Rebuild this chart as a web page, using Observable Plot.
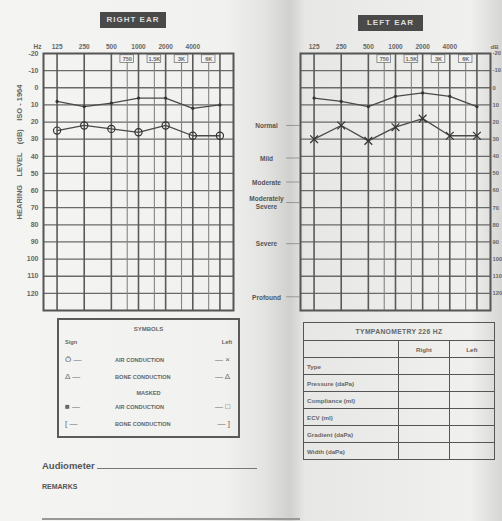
<!DOCTYPE html>
<html><head><meta charset="utf-8">
<script src="https://cdn.jsdelivr.net/npm/d3@7"></script>
<script src="https://cdn.jsdelivr.net/npm/@observablehq/plot@0.6"></script>
<style>
body{margin:0;background:#eee;}
#page{position:relative;width:502px;height:521px;overflow:hidden;
 background:linear-gradient(to right,#f4f4f2 0px,#f1f1ef 225px,#e3e3e1 265px,#d0d0ce 290px,#e7e7e5 305px,#f0f0ee 470px,#d6d6d4 502px);
 font-family:"Liberation Sans",Arial,sans-serif;color:#555;}
.abs{position:absolute;}
.earTitle{position:absolute;background:#4a4a4a;color:#ddd;font-weight:bold;font-size:8px;letter-spacing:1px;text-align:center;line-height:16px;height:16px;}
#legend{left:57px;top:318px;width:179px;height:116px;border:2px solid #5a5a5a;font-size:5.6px;font-weight:bold;color:#666;}
#legend div{position:absolute;white-space:nowrap;}
#tymp{left:303px;top:322px;border-collapse:collapse;width:192px;font-size:6.2px;font-weight:bold;color:#666;}
#tymp td{border:1.5px solid #555;height:16px;padding:0 3px;white-space:nowrap;}
svg{position:absolute;top:0;overflow:visible;}
</style></head>
<body><div id="page"></div>
<script>
// ---------- data ----------
const freqs = [125, 250, 500, 1000, 2000, 4000, 8000];
const freqLabels = ["125", "250", "500", "1000", "2000", "4000"];
const midFreqs = [750, 1500, 3000, 6000];
const midLabels = ["750", "1.5K", "3K", "6K"];
const gridFreqs = [125, 250, 500, 750, 1000, 1500, 2000, 3000, 4000, 6000, 8000];
const dbTicks = [-20, -10, 0, 10, 20, 30, 40, 50, 60, 70, 80, 90, 100, 110, 120];
const dbLines = [-10, 0, 10, 20, 30, 40, 50, 60, 70, 80, 90, 100, 110, 120];
const rightAir = [8, 11, 9, 6, 6, 12, 10];
const rightBone = [25, 22, 24, 26, 22, 28, 28];
const leftAir = [6, 8, 11, 5, 3, 5, 11];
const leftBone = [30, 22, 31, 23, 18, 28, 28];
const sevLabels = ["Normal", "Mild", "Moderate", "Moderately\nSevere", "Severe", "Profound"];
const sevDb = [22, 41, 55, 67, 91, 122];
const legendRows = [
  ["Ō —", "AIR CONDUCTION", "— ×"],
  ["Δ —", "BONE CONDUCTION", "— Δ"],
  ["■ —", "AIR CONDUCTION", "— □"],
  ["[ —", "BONE CONDUCTION", "— ]"]
];
const tympRows = ["Type", "Pressure (daPa)", "Compliance (ml)", "ECV (ml)", "Gradient (daPa)", "Width (daPa)"];

// ---------- helpers ----------
const page = document.getElementById("page");
const xDomain = [125 / Math.SQRT2, 8000 * Math.SQRT2];
const font = "'Liberation Sans', Arial, sans-serif";

function ear({air, bone, left, width, marginLeft, marginRight, axis, boneSymbol, extra}) {
  const airData = freqs.map((f, i) => ({f, db: air[i]}));
  const boneData = freqs.map((f, i) => ({f, db: bone[i]}));
  const midData = midFreqs.map((f, i) => ({f, t: midLabels[i]}));
  const topData = freqLabels.map((t, i) => ({f: freqs[i], t}));
  const p = Plot.plot({
    width, height: 330, marginLeft, marginRight, marginTop: 53, marginBottom: 20,
    style: {background: "transparent", fontFamily: font, fontSize: "7px", fontWeight: "bold", color: "#555", overflow: "visible"},
    x: {type: "log", domain: xDomain, axis: null},
    y: {domain: [-20, 130], reverse: true, axis: null},
    marks: [
      Plot.ruleY(dbLines, {stroke: "#6a6a6a", strokeWidth: 1.3}),
      Plot.ruleX(gridFreqs, {stroke: d => freqs.includes(d) ? "#5a5a5a" : "#858585", strokeWidth: d => freqs.includes(d) ? 1.6 : 1.1}),
      Plot.rect(midData, {x1: d => d.f / 1.19, x2: d => d.f * 1.19, y1: -19, y2: -14.5, fill: "#f2f2f2", stroke: "#777", strokeWidth: 0.8}),
      Plot.text(midData, {x: "f", y: -16.7, text: "t", fontSize: 5.5, fill: "#666"}),
      Plot.frame({stroke: "#555", strokeWidth: 2}),
      axis,
      Plot.text(topData, {x: "f", frameAnchor: "top", dy: -9, text: "t", fill: "#666", fontSize: 6.5}),
      Plot.line(airData, {x: "f", y: "db", stroke: "#4a4a4a", strokeWidth: 1.3}),
      Plot.dot(airData, {x: "f", y: "db", r: 1.6, fill: "#333"}),
      Plot.line(boneData, {x: "f", y: "db", stroke: "#4a4a4a", strokeWidth: 1.3}),
      Plot.dot(boneData, {x: "f", y: "db", r: 3.6, symbol: boneSymbol, stroke: "#333", strokeWidth: 1.2, fill: "none"}),
      ...extra
    ]
  });
  p.style.left = left + "px";
  page.appendChild(p);
}

// Right ear
ear({air: rightAir, bone: rightBone, left: 0, width: 250, marginLeft: 43, marginRight: 17, boneSymbol: "circle",
  axis: Plot.axisY({anchor: "left", ticks: dbTicks, tickSize: 0, tickPadding: 5, label: null, tickFormat: d => String(d), fill: "#666"}),
  extra: [
    Plot.text(["Hz"], {frameAnchor: "top-left", dx: -10, dy: -9, text: d => d, fill: "#666", fontSize: 6.5}),
    Plot.text(["HEARING    LEVEL    (dB)    ISO - 1964"], {frameAnchor: "left", textAnchor: "middle", dx: -24, dy: -30, rotate: -90, text: d => d, fontSize: 7.5, fill: "#666"})
  ]});

// Left ear (with severity scale in the gutter)
const sevData = sevLabels.map((t, i) => ({t, db: sevDb[i]}));
ear({air: leftAir, bone: leftBone, left: 235, width: 267, marginLeft: 65, marginRight: 12, boneSymbol: "times",
  axis: Plot.axisY({anchor: "right", ticks: dbTicks, tickSize: 0, tickPadding: 2, label: null, tickFormat: d => String(d), fill: "#666", fontSize: 5.8}),
  extra: [
    Plot.text(sevData, {y: "db", text: "t", frameAnchor: "left", dx: -34, textAnchor: "middle", fontSize: 6.5, fill: "#555", lineHeight: 1.3}),
    Plot.ruleY(sevData, {y: "db", x1: 62, x2: xDomain[0], stroke: "#888", strokeWidth: 0.8, clip: false}),
    Plot.text(["dB"], {frameAnchor: "top-right", dx: 8, dy: -9, text: d => d, fill: "#666", fontSize: 6})
  ]});

// Ear titles
function title(txt, l, t, w) {
  const d = document.createElement("div");
  d.className = "earTitle"; d.textContent = txt;
  d.style.left = l + "px"; d.style.top = t + "px"; d.style.width = w + "px";
  page.appendChild(d);
}
title("RIGHT EAR", 100, 12, 66);
title("LEFT EAR", 358, 15, 65);

// Legend box
const lg = document.createElement("div");
lg.id = "legend"; lg.className = "abs";
let html = `<div style="left:0;width:179px;text-align:center;top:6px;font-size:6px">SYMBOLS</div>
<div style="left:6px;top:19px">Sign</div><div style="right:6px;top:19px">Left</div>`;
const tops = [37, 54, 84, 101];
legendRows.forEach((r, i) => {
  html += `<div style="left:6px;top:${tops[i] - 2}px;font-size:8px;font-weight:normal">${r[0]}</div>
  <div style="left:56px;top:${tops[i]}px">${r[1]}</div>
  <div style="right:8px;top:${tops[i] - 2}px;font-size:8px;font-weight:normal">${r[2]}</div>`;
});
html += `<div style="left:0;width:179px;text-align:center;top:70px">MASKED</div>`;
lg.innerHTML = html;
page.appendChild(lg);

// Tympanometry table
const tb = document.createElement("table");
tb.id = "tymp"; tb.className = "abs";
let th = `<tr><td colspan="3" style="text-align:center;font-size:6.8px;letter-spacing:0.3px;height:17px">TYMPANOMETRY 226 HZ</td></tr>
<tr><td style="width:88px"></td><td style="width:44px;text-align:center">Right</td><td style="text-align:center">Left</td></tr>`;
tympRows.forEach(r => { th += `<tr><td>${r}</td><td></td><td></td></tr>`; });
tb.innerHTML = th;
page.appendChild(tb);

// Footer
const ft = document.createElement("div");
ft.className = "abs";
ft.style.cssText = "left:42px;top:460px;width:260px;";
ft.innerHTML = `<div style="font-size:9.5px;font-weight:bold;color:#555">Audiometer <span style="display:inline-block;width:160px;border-bottom:1px solid #777"></span></div>
<div style="margin-top:12px;font-size:7px;font-weight:bold;color:#555">REMARKS</div>
<div style="position:absolute;top:58px;left:0;width:258px;border-top:2px solid #999"></div>`;
page.appendChild(ft);
</script>
</body></html>
